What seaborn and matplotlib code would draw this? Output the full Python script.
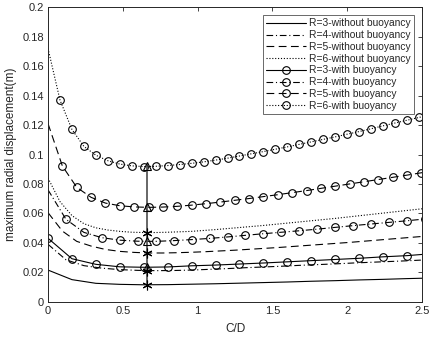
import numpy as np
import pandas as pd
import matplotlib
matplotlib.use("Agg")
import matplotlib.pyplot as plt
from matplotlib.ticker import FuncFormatter
import seaborn as sns

# x step for each R is 0.48/R (C/D grid), last point sits just past 2.5 and gets clipped
steps = {3: 0.16, 4: 0.12, 5: 0.096, 6: 0.08}

# maximum radial displacement (m)
r3_without = [0.0215, 0.0150, 0.0125, 0.0118, 0.0115, 0.0116, 0.0119, 0.0122, 0.0126,
              0.0130, 0.0134, 0.0139, 0.0143, 0.0148, 0.0152, 0.0157, 0.0161]
r4_without = [0.0390, 0.0285, 0.0245, 0.0228, 0.0218, 0.0213, 0.0211, 0.0212, 0.0215,
              0.0220, 0.0225, 0.0231, 0.0236, 0.0241, 0.0247, 0.0252, 0.0257, 0.0263,
              0.0268, 0.0273, 0.0278, 0.0284]
r5_without = [0.0605, 0.0480, 0.0410, 0.0378, 0.0355, 0.0342, 0.0335, 0.0331, 0.0331,
              0.0333, 0.0336, 0.0340, 0.0345, 0.0350, 0.0356, 0.0362, 0.0368, 0.0375,
              0.0382, 0.0389, 0.0396, 0.0403, 0.0411, 0.0419, 0.0427, 0.0435, 0.0443,
              0.0451]
r6_without = [0.0840, 0.0680, 0.0585, 0.0530, 0.0502, 0.0487, 0.0478, 0.0472, 0.0470,
              0.0470, 0.0472, 0.0475, 0.0478, 0.0484, 0.0490, 0.0497, 0.0504, 0.0511,
              0.0518, 0.0526, 0.0534, 0.0542, 0.0550, 0.0558, 0.0566, 0.0575, 0.0584,
              0.0593, 0.0602, 0.0611, 0.0620, 0.0629, 0.0638]

r3_with = [0.0431, 0.0292, 0.0254, 0.0237, 0.0234, 0.0236, 0.0244, 0.0249, 0.0256,
           0.0263, 0.0271, 0.0279, 0.0287, 0.0295, 0.0305, 0.0313, 0.0326]
r4_with = [0.0760, 0.0560, 0.0471, 0.0435, 0.0418, 0.0411, 0.0410, 0.0415, 0.0422,
           0.0430, 0.0440, 0.0451, 0.0462, 0.0472, 0.0482, 0.0493, 0.0505, 0.0517,
           0.0528, 0.0539, 0.0550, 0.0562]
r5_with = [0.1210, 0.0922, 0.0777, 0.0709, 0.0670, 0.0652, 0.0644, 0.0641, 0.0643,
           0.0648, 0.0656, 0.0666, 0.0677, 0.0689, 0.0701, 0.0714, 0.0727, 0.0741,
           0.0755, 0.0770, 0.0785, 0.0800, 0.0815, 0.0830, 0.0845, 0.0860, 0.0876,
           0.0892]
r6_with = [0.1720, 0.1370, 0.1170, 0.1055, 0.0995, 0.0958, 0.0935, 0.0923, 0.0918,
           0.0920, 0.0925, 0.0932, 0.0940, 0.0950, 0.0962, 0.0975, 0.0990, 0.1005,
           0.1020, 0.1036, 0.1052, 0.1069, 0.1086, 0.1103, 0.1120, 0.1138, 0.1156,
           0.1175, 0.1195, 0.1214, 0.1233, 0.1252, 0.1270]

# minimum points marked on the vertical line
opt_cd = 0.66
min_without = [0.0115, 0.0211, 0.0331, 0.0470]
min_with = [0.0234, 0.0410, 0.0641, 0.0920]

sns.set_style("white")
plt.rcParams["font.family"] = ["Liberation Sans", "DejaVu Sans"]

fig = plt.figure(figsize=(4.31, 3.40), dpi=100)
ax = fig.add_axes([0.1114, 0.1126, 0.8677, 0.8659])

styles = {3: "-", 4: (0, (6, 2.5, 1, 2.5)), 5: (0, (7, 4)), 6: (0, (1, 1.6))}
without = {3: r3_without, 4: r4_without, 5: r5_without, 6: r6_without}
withb = {3: r3_with, 4: r4_with, 5: r5_with, 6: r6_with}

for R in [3, 4, 5, 6]:
    y = without[R]
    x = np.arange(len(y)) * steps[R]
    sns.lineplot(x=x, y=y, ax=ax, color="k", linestyle=styles[R], lw=0.8,
                 estimator=None, sort=False, label=f"R={R}-without buoyancy")

for R in [3, 4, 5, 6]:
    y = withb[R]
    x = np.arange(len(y)) * steps[R]
    mk = slice(0, None) if R == 3 else slice(1, None)
    sns.lineplot(x=x, y=y, ax=ax, color="k", linestyle=styles[R], lw=0.8,
                 marker="o", markersize=5.5, markerfacecolor="none",
                 markeredgecolor="k", markeredgewidth=0.8, markevery=mk,
                 estimator=None, sort=False, label=f"R={R}-with buoyancy")

# vertical line through the minima
ax.plot([opt_cd, opt_cd], [min(min_without), max(min_with)], color="#4d4d4d", lw=1.2, zorder=3)
ax.plot([opt_cd] * len(min_without), min_without, ls="none", marker=(6, 2, 0),
        markersize=7, color="k", mew=0.8, zorder=4)
ax.plot([opt_cd] * len(min_with), min_with, ls="none", marker="^", markersize=5.5,
        markerfacecolor="none", markeredgecolor="k", mew=0.8, zorder=4)

ax.set_xlim(0, 2.5)
ax.set_ylim(0, 0.2)
ax.set_xticks([0, 0.5, 1, 1.5, 2, 2.5])
ax.set_yticks(np.arange(0, 0.201, 0.02))
fmt = FuncFormatter(lambda v, p: f"{v:g}")
ax.xaxis.set_major_formatter(fmt)
ax.yaxis.set_major_formatter(fmt)
ax.tick_params(direction="in", length=3, width=0.6, colors="#262626", labelsize=8,
               top=True, right=True, pad=3)
for s in ax.spines.values():
    s.set_color("#262626")
    s.set_linewidth(0.7)
ax.set_xlabel("C/D", fontsize=8.5, color="#262626", labelpad=5)
ax.set_ylabel("maximum radial displacement(m)", fontsize=8.5, color="#262626", labelpad=4)

leg = ax.legend(loc="upper right", fontsize=7.4, frameon=True, fancybox=False,
                edgecolor="#262626", handlelength=3.9, handletextpad=0.3,
                labelspacing=0.17, borderpad=0.3, borderaxespad=0.78)
leg.get_frame().set_linewidth(0.6)

plt.savefig("out.png", dpi=100)
